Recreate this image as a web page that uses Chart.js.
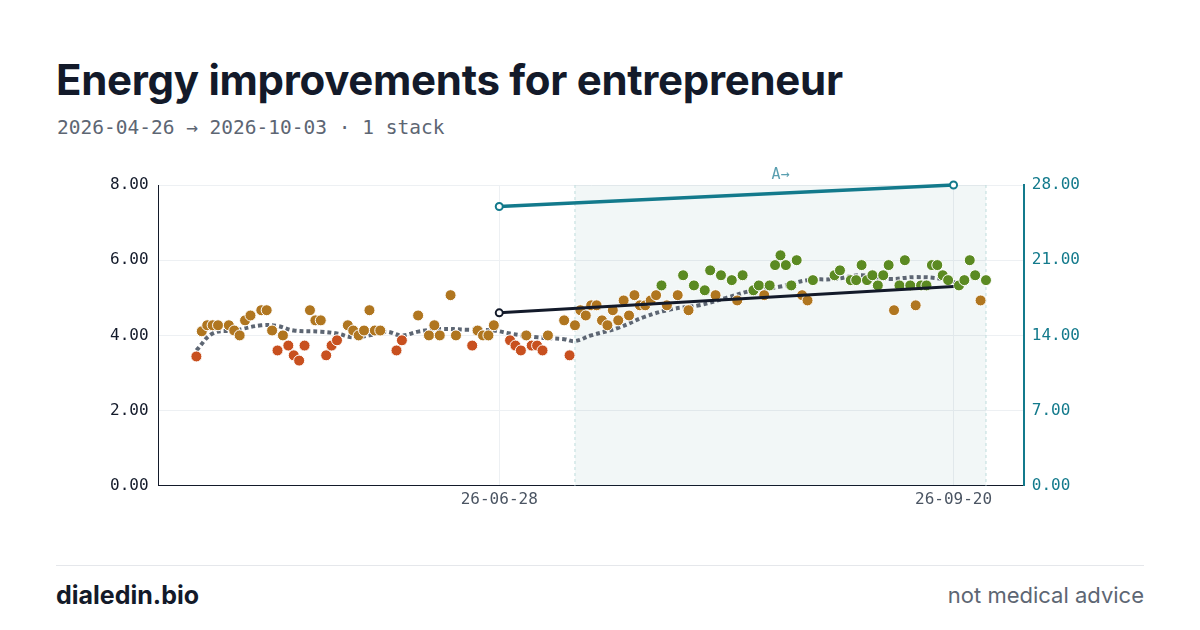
<!DOCTYPE html>
<html><head><meta charset="utf-8">
<script src="https://cdn.jsdelivr.net/npm/chart.js@4"></script>
<style>
body{margin:0;width:1200px;height:630px;background:#fff;font-family:Inter,sans-serif;position:relative;overflow:hidden}
h1{position:absolute;left:56px;top:54px;margin:0;font-size:42px;font-weight:700;color:#131a2a;letter-spacing:-0.3px}
.sub{position:absolute;left:57px;top:116px;font-family:"DejaVu Sans Mono",monospace;font-size:19.5px;color:#5d6673}
.foot{position:absolute;left:56px;right:56px;top:565px;border-top:1px solid #e5e7eb}
.brand{position:absolute;left:56px;top:580px;font-size:25px;font-weight:700;color:#131a2a}
.note{position:absolute;right:56px;top:582px;font-size:22px;color:#5d6673}
#wrap{position:absolute;left:0;top:150px;width:1200px;height:380px}
</style></head><body>
<h1>Energy improvements for entrepreneur</h1>
<div class="sub">2026-04-26 → 2026-10-03 · 1 stack</div>
<div id="wrap"><canvas id="c"></canvas></div>
<div class="foot"></div>
<div class="brand">dialedin.bio</div>
<div class="note">not medical advice</div>
<script>
// day offsets from 2026-04-26
const days = [7,8,9,10,11,13,14,15,16,17,19,20,21,22,23,24,25,26,27,28,29,30,31,32,33,35,36,37,38,39,40,41,44,45,48,50,51,52,54,55,58,59,60,61,62,65,66,67,68,69,70,71,72,75,76,77,
78,79,80,81,82,83,84,85,86,87,88,89,90,91,92,93,94,96,97,98,99,101,102,103,104,106,107,108,110,111,112,113,114,115,116,117,118,119,120,121,125,126,128,129,130,131,132,133,134,135,136,137,138,139,140,141,142,143,144,145,146,148,149,150,151,152,153];
const energy = [3.44,4.11,4.27,4.27,4.27,4.27,4.13,4.0,4.4,4.53,4.67,4.67,4.13,3.6,4.0,3.73,3.47,3.33,3.73,4.67,4.4,4.4,3.47,3.73,3.87,4.27,4.13,4.0,4.13,4.67,4.13,4.13,3.6,3.87,4.53,4.0,4.27,4.0,5.07,4.0,3.73,4.13,4.0,4.0,4.27,3.87,3.73,3.6,4.0,3.73,3.73,3.6,4.0,4.4,3.47,4.27,
4.67,4.53,4.8,4.8,4.4,4.27,4.67,4.4,4.93,4.53,5.07,4.8,4.8,4.93,5.07,5.33,4.8,5.07,5.6,4.67,5.33,5.2,5.73,5.07,5.6,5.47,4.93,5.6,5.2,5.33,5.07,5.33,5.87,6.13,5.87,5.33,6.0,5.07,4.93,5.47,5.6,5.73,5.47,5.47,5.87,5.47,5.6,5.33,5.6,5.87,4.67,5.33,6.0,5.33,4.8,5.33,5.33,5.87,5.87,5.6,5.47,5.33,5.47,6.0,5.6,4.93,5.47];
const avgDays = [7,10,14,19,22,25,30,33,36,39,42,45,48,52,57,62,65,70,75,77,80,85,90,95,100,105,110,115,120,125,130,135,140,145,148];
const avgVals = [3.6,4.05,4.13,4.27,4.25,4.13,4.1,4.05,3.95,4.0,4.1,4.0,4.1,4.17,4.15,4.13,4.05,3.95,3.9,3.85,4.0,4.2,4.5,4.7,4.8,5.0,5.2,5.3,5.47,5.5,5.6,5.5,5.55,5.5,5.37];
const trendDays = [63,147];
const trendVals = [4.6,5.3];
const stackDays = [63,147];
const stackVals = [26.0,28.0];
const tickDays = [63,147];
const tickLabels = ['26-06-28','26-09-20'];
const band = [77,153];
const bandLabel = 'A→';

const pts = days.map((d,i)=>({x:d,y:energy[i]}));
const colorFor = v => v < 3.9 ? '#c8501f' : (v >= 5.2 ? '#5b8a22' : '#b07620');

const bandPlugin = {
  id:'band',
  beforeDatasetsDraw(chart){
    const {ctx, chartArea:a, scales:{x}} = chart;
    const x0 = x.getPixelForValue(band[0]), x1 = x.getPixelForValue(band[1]);
    ctx.save();
    ctx.fillStyle = 'rgba(15,118,110,0.055)';
    ctx.fillRect(x0, a.top, x1-x0, a.bottom-a.top);
    ctx.strokeStyle = '#bfdcdc'; ctx.setLineDash([3,3]); ctx.lineWidth = 1;
    [x0,x1].forEach(px=>{ctx.beginPath();ctx.moveTo(px,a.top);ctx.lineTo(px,a.bottom);ctx.stroke();});
    ctx.setLineDash([]);
    ctx.fillStyle = '#5a9fb0'; ctx.font = '15px "DejaVu Sans Mono", monospace'; ctx.textAlign = 'center';
    ctx.fillText(bandLabel, (x0+x1)/2, a.top-6);
    ctx.restore();
  }
};

new Chart(document.getElementById('c'), {
  type:'scatter',
  data:{datasets:[
    {type:'line', data:stackDays.map((d,i)=>({x:d,y:stackVals[i]})), yAxisID:'y2', borderColor:'#137a8c', borderWidth:3.5, clip:false,
     pointRadius:3.5, pointBackgroundColor:'#fff', pointBorderColor:'#137a8c', pointBorderWidth:2, order:0},
    {type:'line', data:trendDays.map((d,i)=>({x:d,y:trendVals[i]})), borderColor:'#131a2a', borderWidth:3,
     pointRadius:[3.5,0], pointBackgroundColor:'#fff', pointBorderColor:'#131a2a', pointBorderWidth:2, order:1},
    {data:pts, pointRadius:5.5, pointBackgroundColor:pts.map(p=>colorFor(p.y)), pointBorderColor:'#fff', pointBorderWidth:1, order:2},
    {type:'line', data:avgDays.map((d,i)=>({x:d,y:avgVals[i]})), borderColor:'#5d6673', borderWidth:4, borderDash:[4,3],
     tension:0.4, pointRadius:0, order:3}
  ]},
  options:{
    responsive:true, maintainAspectRatio:false, animation:false,
    layout:{padding:{left:100,right:112,top:35,bottom:17}},
    plugins:{legend:{display:false}, tooltip:{enabled:false}},
    scales:{
      x:{type:'linear', min:0, max:160,
        afterBuildTicks:s=>{s.ticks = tickDays.map(v=>({value:v}));},
        ticks:{callback:v=>tickLabels[tickDays.indexOf(v)], color:'#4b5563', font:{family:'DejaVu Sans Mono',size:16}, maxRotation:0, padding:4},
        grid:{color:'#edf0f3', drawTicks:false}, border:{color:'#131a2a'}},
      y:{min:0, max:8, ticks:{stepSize:2, callback:v=>v.toFixed(2), color:'#131a2a', font:{family:'DejaVu Sans Mono',size:16}, padding:10},
        grid:{color:'#edf0f3', drawTicks:false}, border:{color:'#131a2a'}},
      y2:{position:'right', min:0, max:28, ticks:{stepSize:7, callback:v=>v.toFixed(2), color:'#137a8c', font:{family:'DejaVu Sans Mono',size:16}, padding:8},
        grid:{display:false, drawTicks:false}, border:{color:'#137a8c', width:2}}
    }
  },
  plugins:[bandPlugin]
});
</script>
</body></html>
